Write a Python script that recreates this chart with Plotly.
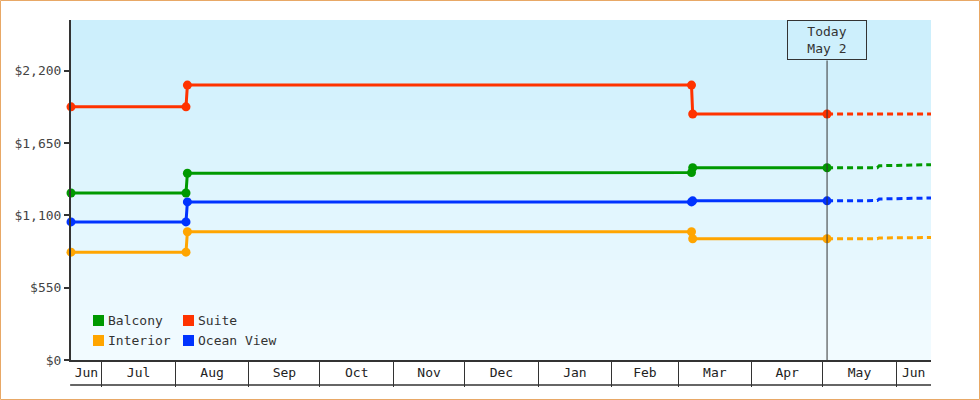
import plotly.graph_objects as go
import pandas as pd

# cabin price history (USD)
dates = ["2024-06-18", "2024-08-05 12:00", "2024-08-06 02:00", "2025-03-06 16:00", "2025-03-07 04:00", "2025-05-02 20:00"]
forecast_dates = ["2025-05-02 20:00", "2025-05-24", "2025-05-24 20:00", "2025-06-15 16:00"]

balcony = [1270, 1270, 1420, 1425, 1462, 1462]
suite = [1925, 1925, 2090, 2090, 1870, 1870]
interior = [820, 820, 975, 975, 922, 922]
ocean_view = [1050, 1050, 1202, 1202, 1210, 1210]

balcony_fc = [1462, 1462, 1477, 1485]
suite_fc = [1870, 1870, 1870, 1870]
interior_fc = [922, 922, 928, 931]
ocean_view_fc = [1210, 1212, 1224, 1232]

today = "2025-05-02 20:00"
x_range = ["2024-06-18", "2025-06-15 16:00"]
y_ticks = [0, 550, 1100, 1650, 2200]
y_labels = ["$0", "$550", "$1,100", "$1,650", "$2,200"]

FONT = "DejaVu Sans Mono"
INK = "#333333"
W, H, L, R, T, B = 980, 400, 71, 49, 20, 40
pw, ph = W - L - R, H - T - B

series = [
    ("Balcony", balcony, balcony_fc, "#009900"),
    ("Suite", suite, suite_fc, "#ff3300"),
    ("Interior", interior, interior_fc, "#ffa500"),
    ("Ocean View", ocean_view, ocean_view_fc, "#0033ff"),
]

# month strip: separators at month starts, labels centred in the visible part
r0, r1 = pd.Timestamp(x_range[0]), pd.Timestamp(x_range[1])
starts = list(pd.date_range(r0.normalize().replace(day=1), r1, freq="MS"))
bounds = [max(s, r0) for s in starts] + [r1]
mids = [bounds[i] + (bounds[i + 1] - bounds[i]) / 2 for i in range(len(bounds) - 1)]
month_names = [s.strftime("%b") for s in starts]
seps = [s for s in starts if s > r0]

fig = go.Figure()
for name, vals, fc, col in series:
    fig.add_trace(go.Scatter(x=forecast_dates, y=fc, mode="lines", showlegend=False,
                             line=dict(color=col, width=3, dash="6px,4px"), hoverinfo="skip"))
    fig.add_trace(go.Scatter(x=dates, y=vals, mode="lines+markers", name=name, showlegend=False,
                             line=dict(color=col, width=3), marker=dict(size=9, color=col),
                             cliponaxis=False))

# light blue gradient behind the plot
shapes = []
n = 34
top, bot = (204, 239, 252), (242, 251, 255)
for i in range(n):
    f = i / (n - 1)
    c = tuple(round(top[k] + (bot[k] - top[k]) * f) for k in range(3))
    shapes.append(dict(type="rect", xref="paper", yref="paper", x0=0, x1=1,
                       y0=1 - (i + 1) / n, y1=1 - i / n, line=dict(width=0),
                       fillcolor="rgb(%d,%d,%d)" % c, layer="below"))

# today marker line
shapes.append(dict(type="line", xref="x", yref="paper", x0=today, x1=today,
                   y0=0, y1=(ph - 40.5) / ph, line=dict(color=INK, width=1)))
# bottom edge of the month strip
shapes.append(dict(type="line", xref="paper", yref="paper", x0=-0.001, x1=1,
                   y0=-25 / ph, y1=-25 / ph, line=dict(color=INK, width=1.5)))
# outer frame
shapes.append(dict(type="rect", xref="paper", yref="paper",
                   x0=(0.5 - L) / pw, x1=(W - 0.5 - L) / pw,
                   y0=(H - B - (H - 0.5)) / ph, y1=(H - B - 0.5) / ph,
                   line=dict(color="#e8a866", width=1)))

annotations = [dict(x=today, xref="x", y=1, yref="paper", yanchor="top",
                    text="Today<br>May 2", showarrow=False, width=72, height=32,
                    bordercolor=INK, borderwidth=1, borderpad=3,
                    font=dict(family=FONT, size=13, color=INK))]

# legend, two columns in the lower left corner
for i, (name, vals, fc, col) in enumerate(series):
    cx = 93 + (i % 2) * 90
    cy = 315 + (i // 2) * 20
    shapes.append(dict(type="rect", xref="paper", yref="paper",
                       x0=(cx - L) / pw, x1=(cx + 11 - L) / pw,
                       y0=(H - B - cy - 11) / ph, y1=(H - B - cy) / ph,
                       fillcolor=col, line=dict(width=0)))
    annotations.append(dict(x=(cx + 13 - L) / pw, xref="paper", y=(H - B - cy - 5.5) / ph, yref="paper",
                            xanchor="left", yanchor="middle", text=name, showarrow=False,
                            font=dict(family=FONT, size=13, color=INK)))

fig.update_layout(
    width=W, height=H,
    margin=dict(l=L, r=R, t=T, b=B),
    paper_bgcolor="white", plot_bgcolor="white",
    font=dict(family=FONT, size=13, color=INK),
    shapes=shapes, annotations=annotations, showlegend=False,
)

fig.update_xaxes(
    type="date", range=x_range, showgrid=False, zeroline=False,
    showline=True, linecolor=INK, linewidth=1.5,
    tickmode="array", tickvals=mids, ticktext=month_names, ticks="",
    minor=dict(tickmode="array", tickvals=seps, ticks="outside", ticklen=25,
               tickcolor=INK, tickwidth=1, showgrid=False),
    tickfont=dict(family=FONT, size=13, color="#222"),
)
fig.update_yaxes(
    range=[0, 2585], tickvals=y_ticks, ticktext=y_labels,
    showgrid=False, zeroline=False, showline=True, linecolor=INK, linewidth=2,
    ticks="outside", ticklen=5, tickwidth=2, tickcolor=INK,
    tickfont=dict(family=FONT, size=13, color="#444"),
)

fig.write_html("out.html", config={"displayModeBar": False},
               post_script="document.body.style.margin='0';")
